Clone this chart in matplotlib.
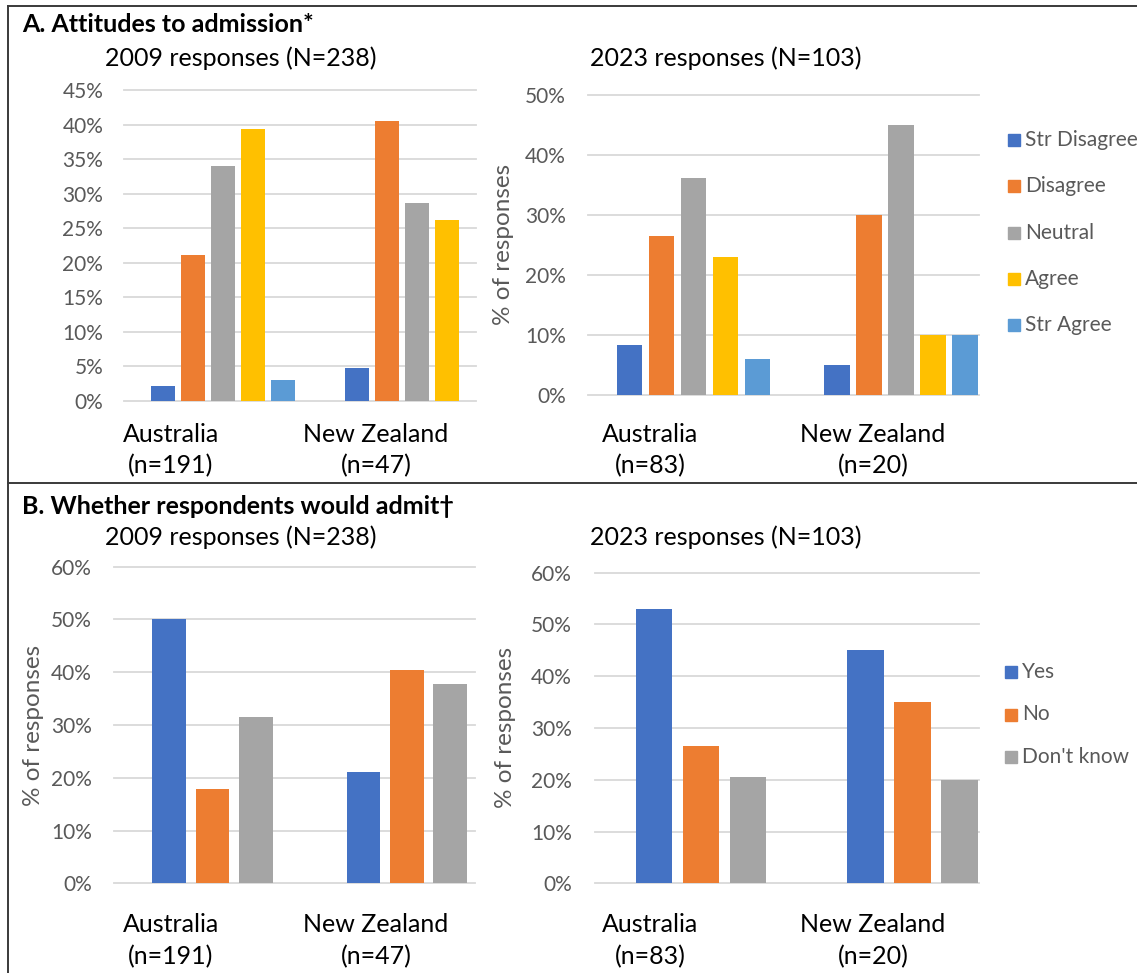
import matplotlib
matplotlib.use("Agg")
import matplotlib.pyplot as plt
from matplotlib.patches import Rectangle
from matplotlib.lines import Line2D
from matplotlib.ticker import PercentFormatter, MultipleLocator

W, H = 1137, 973
DPI = 100

# ---- data -------------------------------------------------------------
countries = ["Australia", "New Zealand"]
n_2009 = ["(n=191)", "(n=47)"]
n_2023 = ["(n=83)", "(n=20)"]

attitude_levels = ["Str Disagree", "Disagree", "Neutral", "Agree", "Str Agree"]
attitude_colors = ["#4472C4", "#ED7D31", "#A5A5A5", "#FFC000", "#5B9BD5"]
att09_au = [2.1, 21.1, 34.0, 39.3, 3.1]
att09_nz = [4.8, 40.5, 28.6, 26.2, 0.0]
att23_au = [8.4, 26.5, 36.1, 22.9, 6.0]
att23_nz = [5.0, 30.0, 45.0, 10.0, 10.0]

admit_levels = ["Yes", "No", "Don't know"]
admit_colors = ["#4472C4", "#ED7D31", "#A5A5A5"]
adm09_au = [50.0, 17.8, 31.5]
adm09_nz = [21.1, 40.4, 37.8]
adm23_au = [53.0, 26.5, 20.5]
adm23_nz = [45.0, 35.0, 20.0]

FONT = "Lato"
GRID = "#D9D9D9"
TICK = "#595959"

fig = plt.figure(figsize=(W / DPI, H / DPI), dpi=DPI)
fig.patch.set_facecolor("white")


def fx(x):
    return x / W


def fy(y):
    return 1 - y / H


def px_axes(x0, x1, y_top, y_base):
    return fig.add_axes([fx(x0), fy(y_base), (x1 - x0) / W, (y_base - y_top) / H])


def bar_panel(x0, x1, y_top, y_base, xlim, ymax, step, au, nz, colors,
              pitch, width, pad):
    ax = px_axes(x0, x1, y_top, y_base)
    k = len(au)
    for i in range(k):
        off = (i - (k - 1) / 2) * pitch
        ax.bar([0 + off, 1 + off], [au[i], nz[i]], width=width,
               color=colors[i], zorder=3)
    ax.set_xlim(*xlim)
    ax.set_ylim(0, ymax)
    ax.yaxis.set_major_locator(MultipleLocator(step))
    ax.yaxis.set_major_formatter(PercentFormatter(decimals=0))
    for v in range(0, int(ymax) + 1, step):
        ax.axhline(v, color=GRID, lw=1.3, zorder=1, clip_on=False)
    for s in ax.spines.values():
        s.set_visible(False)
    ax.set_xticks([])
    ax.tick_params(axis="y", length=0, pad=pad, labelsize=15, labelcolor=TICK)
    for t in ax.get_yticklabels():
        t.set_fontfamily(FONT)
    ax.set_facecolor("none")
    return ax


def ftext(x, y, s, size, **kw):
    kw.setdefault("family", FONT)
    kw.setdefault("va", "center")
    fig.text(fx(x), fy(y), s, fontsize=size, **kw)


# ---- A. attitudes ------------------------------------------------------
bar_panel(124, 476, 90, 401, (-0.510, 1.305), 45, 5, att09_au, att09_nz,
          attitude_colors, 0.1547, 0.125, 15)
bar_panel(588, 979, 94.7, 395, (-0.508, 1.374), 50, 10, att23_au, att23_nz,
          attitude_colors, 0.154, 0.124, 16)

# ---- B. whether would admit -------------------------------------------
bar_panel(114, 475, 566.7, 883.3, (-0.507, 1.351), 60, 10, adm09_au, adm09_nz,
          admit_colors, 0.2234, 0.1724, 16)
bar_panel(595, 979, 572.7, 883.3, (-0.501, 1.314), 60, 10, adm23_au, adm23_nz,
          admit_colors, 0.222, 0.1725, 16.5)

# axis titles
ftext(504, 244, "% of responses", 17.5, color=TICK, rotation=90, ha="center")
ftext(34, 725, "% of responses", 17.5, color=TICK, rotation=90, ha="center")
ftext(506, 727, "% of responses", 17.5, color=TICK, rotation=90, ha="center")

# category labels
for (cx, lab, n) in [(171, countries[0], n_2009[0]), (376, countries[1], n_2009[1]),
                     (650, countries[0], n_2023[0]), (873, countries[1], n_2023[1])]:
    ftext(cx, 434, lab, 18, ha="center", color="black")
    ftext(cx, 466, n, 18, ha="center", color="black")
    ftext(cx, 925, lab, 18, ha="center", color="black")
    ftext(cx, 957, n, 18, ha="center", color="black")

# section titles and subtitles
ftext(22, 25, "A. Attitudes to admission*", 18, weight="bold", ha="left")
ftext(105, 58, "2009 responses (N=238)", 18, ha="left")
ftext(590, 58, "2023 responses (N=103)", 18, ha="left")
ftext(22, 506, "B. Whether respondents would admit\u2020", 18, weight="bold", ha="left")
ftext(105, 537, "2009 responses (N=238)", 18, ha="left")
ftext(590, 537, "2023 responses (N=103)", 18, ha="left")

# legends
for i, (lab, col) in enumerate(zip(attitude_levels, attitude_colors)):
    y = 140 + i * 46.3
    fig.add_artist(Rectangle((fx(1008), fy(y + 6)), 12 / W, 12 / H,
                             transform=fig.transFigure, color=col))
    ftext(1025, y, lab, 15, color=TICK, ha="left")
for i, (lab, col) in enumerate(zip(admit_levels, admit_colors)):
    y = 672 + i * 42.5
    fig.add_artist(Rectangle((fx(1005), fy(y + 6)), 12 / W, 12 / H,
                             transform=fig.transFigure, color=col))
    ftext(1022, y, lab, 15, color=TICK, ha="left")

# frame lines
LC = "#3A3A3A"
fig.add_artist(Line2D([fx(8), fx(8)], [fy(6), fy(973)], color=LC, lw=1.4,
                      transform=fig.transFigure))
fig.add_artist(Line2D([fx(8), fx(1137)], [fy(6), fy(6)], color=LC, lw=1.4,
                      transform=fig.transFigure))
fig.add_artist(Line2D([fx(8), fx(1137)], [fy(483), fy(483)], color=LC, lw=1.4,
                      transform=fig.transFigure))

fig.savefig("out.png", dpi=DPI, facecolor="white")
